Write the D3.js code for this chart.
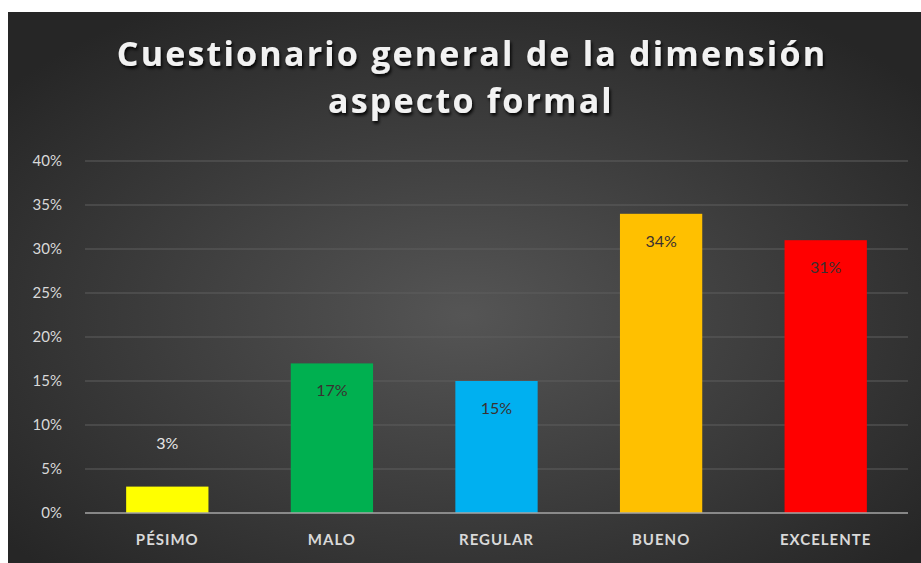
<!DOCTYPE html>
<html>
<head>
<meta charset="utf-8">
<script src="https://cdn.jsdelivr.net/npm/d3@7"></script>
<style>
  body { margin: 0; background: #fff; }
</style>
</head>
<body>
<div id="chart"></div>
<script>
// data
var categories = ["PÉSIMO", "MALO", "REGULAR", "BUENO", "EXCELENTE"];
var values = [3, 17, 15, 34, 31];
var barColors = ["#ffff00", "#00b050", "#00b0f0", "#ffc000", "#ff0000"];
var yTicks = [0, 5, 10, 15, 20, 25, 30, 35, 40];
var titleLines = ["Cuestionario general de la dimensión", "aspecto formal"];

var svgWidth = 921;
var svgHeight = 563;

var margin = { top: 161, right: 13, bottom: 50, left: 85 };
var width = svgWidth - margin.left - margin.right;
var height = svgHeight - margin.top - margin.bottom;

var svg = d3.select("#chart")
  .append("svg")
  .attr("width", svgWidth)
  .attr("height", svgHeight);

// background panel with radial light
var defs = svg.append("defs");
var grad = defs.append("radialGradient")
  .attr("id", "bg")
  .attr("cx", "50%").attr("cy", "55%").attr("r", "65%");
grad.append("stop").attr("offset", "0%").attr("stop-color", "#555555");
grad.append("stop").attr("offset", "100%").attr("stop-color", "#262626");

var shadow = defs.append("filter").attr("id", "shadow")
  .attr("x", "-5%").attr("y", "-20%").attr("width", "110%").attr("height", "150%");
shadow.append("feDropShadow")
  .attr("dx", 1.5).attr("dy", 2.5).attr("stdDeviation", 1.5)
  .attr("flood-color", "#000").attr("flood-opacity", 0.9);

svg.append("rect")
  .attr("x", 8).attr("y", 12)
  .attr("width", svgWidth - 8).attr("height", svgHeight - 12)
  .attr("fill", "url(#bg)");

var chartGroup = svg.append("g")
  .attr("transform", `translate(${margin.left}, ${margin.top})`);

// scales
var xBandScale = d3.scaleBand()
  .domain(categories)
  .range([0, width])
  .paddingInner(0.5)
  .paddingOuter(0.25);

var yLinearScale = d3.scaleLinear()
  .domain([0, 40])
  .range([height, 0]);

// gridlines
chartGroup.append("g")
  .selectAll("line")
  .data(yTicks.filter(d => d > 0))
  .enter()
  .append("line")
  .attr("x1", 0)
  .attr("x2", width)
  .attr("y1", d => yLinearScale(d))
  .attr("y2", d => yLinearScale(d))
  .attr("stroke", "#5e5e5e")
  .attr("stroke-width", 1);

// y axis labels
var leftAxis = d3.axisLeft(yLinearScale)
  .tickValues(yTicks)
  .tickSize(0)
  .tickPadding(23)
  .tickFormat(d => d + "%");

var yAxisG = chartGroup.append("g").call(leftAxis);
yAxisG.select(".domain").remove();
yAxisG.selectAll("text")
  .attr("fill", "#d9d9d9")
  .attr("font-family", "Lato, 'Open Sans', sans-serif")
  .attr("font-size", "15px");

// bars
chartGroup.selectAll("rect.bar")
  .data(values)
  .enter()
  .append("rect")
  .attr("class", "bar")
  .attr("x", (d, i) => xBandScale(categories[i]))
  .attr("y", d => yLinearScale(d))
  .attr("width", xBandScale.bandwidth())
  .attr("height", d => height - yLinearScale(d))
  .attr("fill", (d, i) => barColors[i]);

// baseline
chartGroup.append("line")
  .attr("x1", 0).attr("x2", width)
  .attr("y1", height).attr("y2", height)
  .attr("stroke", "#a6a6a6")
  .attr("stroke-width", 1.5);

// value labels: inside end, small bar gets it above
chartGroup.selectAll("text.val")
  .data(values)
  .enter()
  .append("text")
  .attr("class", "val")
  .attr("x", (d, i) => xBandScale(categories[i]) + xBandScale.bandwidth() / 2)
  .attr("y", d => d < 5 ? yLinearScale(d) - 38 : yLinearScale(d) + 33)
  .attr("text-anchor", "middle")
  .attr("font-family", "Lato, 'Open Sans', sans-serif")
  .attr("font-size", "16px")
  .attr("fill", d => d < 5 ? "#e6e6e6" : "#3a3030")
  .text(d => d + "%");

// x axis labels
var bottomAxis = d3.axisBottom(xBandScale).tickSize(0).tickPadding(21);
var xAxisG = chartGroup.append("g")
  .attr("transform", `translate(0, ${height})`)
  .call(bottomAxis);
xAxisG.select(".domain").remove();
xAxisG.selectAll("text")
  .attr("fill", "#d9d9d9")
  .attr("font-family", "Lato, 'Open Sans', sans-serif")
  .attr("font-weight", "bold")
  .attr("font-size", "15px")
  .attr("letter-spacing", "1px");

// title
svg.append("g")
  .selectAll("text")
  .data(titleLines)
  .enter()
  .append("text")
  .attr("x", (d, i) => i === 0 ? 472 : 471)
  .attr("y", (d, i) => 66 + i * 47)
  .attr("text-anchor", "middle")
  .attr("font-family", "'Open Sans', sans-serif")
  .attr("font-weight", "bold")
  .attr("font-size", "34px")
  .attr("letter-spacing", "2.2px")
  .attr("fill", "#f2f2f2")
  .attr("filter", "url(#shadow)")
  .text(d => d);
</script>
</body>
</html>
